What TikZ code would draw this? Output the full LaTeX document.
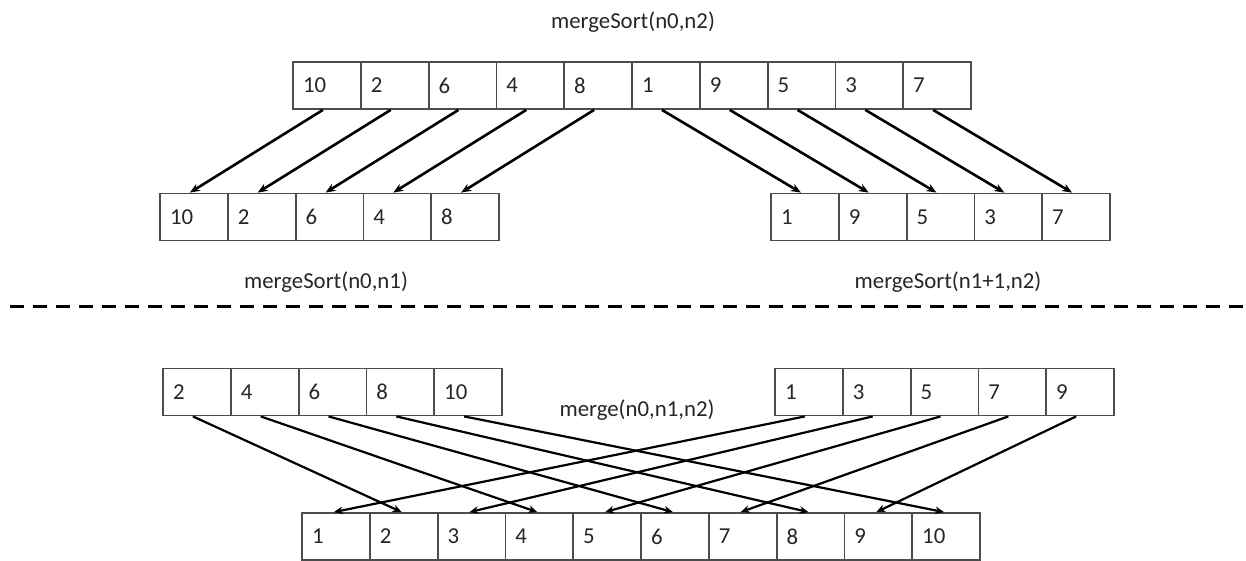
\documentclass[tikz,border=0pt]{standalone}
\usepackage{fontspec}
\setmainfont{Carlito}
\usepackage{tikz}
\usetikzlibrary{arrows.meta, positioning, calc}

\begin{document}
\begin{tikzpicture}[x=0.5pt, y=-0.5pt, font=\fontsize{11.4}{13}\selectfont,
    cell/.style={draw=black!70, line width=0.9pt, text=black!85, minimum height=23.5pt,
        inner xsep=5pt, text width=23.9pt, align=left},
    label/.style={text=black!85},
    link/.style={-{Stealth[length=5pt, width=4pt]}, line width=1.3pt, black},
    mlink/.style={-{Stealth[length=4.5pt, width=3.8pt]}, line width=1.1pt, black}]
% Row of cells
\def\cellrow#1#2#3#4{
    % #1 = name, #2 = left x, #3 = y, #4 = values
    \foreach \v [count=\i] in {#4}
        \node[cell] (#1\i) at ({#2+33.9+67.8*(\i-1)}, #3) {\v};
}
\useasboundingbox (0,0) rectangle (1246,561);

% Split
\node[label] (title) at (633,22) {mergeSort(n0,n2)};
\cellrow{top}{293}{85.5}{10,2,6,4,8,1,9,5,3,7}
\cellrow{lo}{160}{217}{10,2,6,4,8}
\cellrow{ro}{771}{217}{1,9,5,3,7}
\node[label] (lsort) at (326,282) {mergeSort(n0,n1)};
\node[label] (rsort) at (948,282) {mergeSort(n1+1,n2)};

\foreach \i [evaluate=\i as \j using int(\i+5)] in {1,...,5} {
    \draw[link] ([xshift=-2pt]top\i.south) -- ([xshift=-2pt]lo\i.north);
    \draw[link] ([xshift=-2pt]top\j.south) -- ([xshift=-2pt]ro\i.north);
}

% Separator
\coordinate (sepL) at (10,306);
\coordinate (sepR) at (1246,306);
\draw[line width=1.5pt, dash pattern=on 7pt off 4.5pt] (sepL) -- (sepR);

% Merge
\cellrow{ls}{163}{392}{2,4,6,8,10}
\cellrow{rs}{775}{392}{1,3,5,7,9}
\node[label] (mlabel) at (637,410) {merge(n0,n1,n2)};
\cellrow{all}{302}{536.5}{1,2,3,4,5,6,7,8,9,10}

\foreach \i [evaluate=\i as \j using int(2*\i), evaluate=\i as \k using int(2*\i-1)] in {1,...,5} {
    \draw[mlink] ([xshift=-2pt]ls\i.south) -- ([xshift=-1pt]all\j.north);
    \draw[mlink] ([xshift=-2pt]rs\i.south) -- ([xshift=-1pt]all\k.north);
}
\end{tikzpicture}
\end{document}
